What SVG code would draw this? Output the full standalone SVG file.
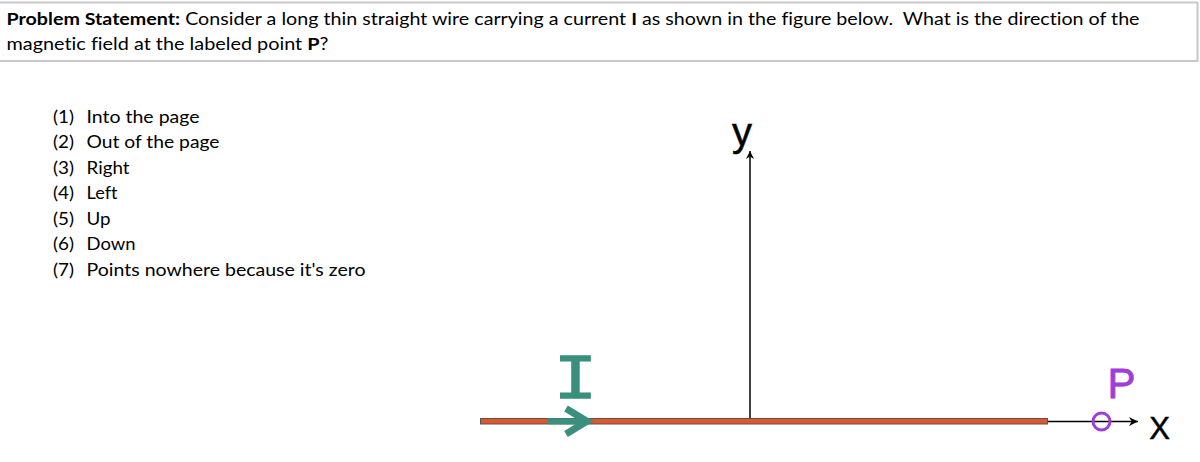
<svg xmlns="http://www.w3.org/2000/svg" width="1200" height="462" viewBox="0 0 1200 462">
  <defs>
    <style>
      .hd { font-family: Lato, "Liberation Sans", sans-serif; font-size: 17.5px; fill: #000; white-space: pre; font-variant-ligatures: none; }
      .li { font-family: Lato, "Liberation Sans", sans-serif; font-size: 17.5px; fill: #000; white-space: pre; font-variant-ligatures: none; }
      .ax { stroke: #000; stroke-width: 1.5; fill: none; }
      .lbl { font-family: "Liberation Sans", Arial, sans-serif; text-anchor: middle; }
    </style>
    <marker id="ah" viewBox="0 0 10 10" refX="10" refY="5" markerWidth="8" markerHeight="8" markerUnits="userSpaceOnUse" orient="auto">
      <path d="M0,0 L10,5 L0,10 L3,5 Z" fill="#000"/>
    </marker>
    <marker id="ahx" viewBox="0 0 10 10" refX="10" refY="5" markerWidth="9" markerHeight="9" markerUnits="userSpaceOnUse" orient="auto">
      <path d="M0,0 L10,5 L0,10 L3,5 Z" fill="#000"/>
    </marker>
  </defs>
  <rect width="1200" height="462" fill="#fff"/>

  <g id="problem-statement">
    <rect x="-2" y="2.5" width="1199.5" height="58.5" fill="#fff" stroke="#c8c8c8" stroke-width="2"/>
    <text class="hd" x="6.5" y="25" textLength="1133" lengthAdjust="spacingAndGlyphs"><tspan font-weight="bold">Problem Statement:</tspan> Consider a long thin straight wire carrying a current <tspan font-weight="bold">I</tspan> as shown in the figure below.  What is the direction of the</text>
    <text class="hd" x="6.5" y="50" textLength="322" lengthAdjust="spacingAndGlyphs">magnetic field at the labeled point <tspan font-weight="bold">P</tspan>?</text>
  </g>

  <g id="choices">
    <text class="li" x="53" y="123" textLength="21" lengthAdjust="spacingAndGlyphs">(1)</text>
    <text class="li" x="86.5" y="123" textLength="113" lengthAdjust="spacingAndGlyphs">Into the page</text>
    <text class="li" x="53" y="148" textLength="21" lengthAdjust="spacingAndGlyphs">(2)</text>
    <text class="li" x="86.5" y="148" textLength="133" lengthAdjust="spacingAndGlyphs">Out of the page</text>
    <text class="li" x="53" y="173.5" textLength="21" lengthAdjust="spacingAndGlyphs">(3)</text>
    <text class="li" x="86.5" y="173.5" textLength="43" lengthAdjust="spacingAndGlyphs">Right</text>
    <text class="li" x="53" y="199" textLength="21" lengthAdjust="spacingAndGlyphs">(4)</text>
    <text class="li" x="86.5" y="199" textLength="31" lengthAdjust="spacingAndGlyphs">Left</text>
    <text class="li" x="53" y="224.5" textLength="21" lengthAdjust="spacingAndGlyphs">(5)</text>
    <text class="li" x="86.5" y="224.5" textLength="24" lengthAdjust="spacingAndGlyphs">Up</text>
    <text class="li" x="53" y="250" textLength="21" lengthAdjust="spacingAndGlyphs">(6)</text>
    <text class="li" x="86.5" y="250" textLength="49" lengthAdjust="spacingAndGlyphs">Down</text>
    <text class="li" x="53" y="275.5" textLength="21" lengthAdjust="spacingAndGlyphs">(7)</text>
    <text class="li" x="86.5" y="275.5" textLength="279" lengthAdjust="spacingAndGlyphs">Points nowhere because it's zero</text>
  </g>

  <g id="connectors">
    <line id="y-axis" class="ax" x1="750" y1="421" x2="750" y2="151" marker-end="url(#ah)"/>
    <line id="x-axis" class="ax" x1="1046" y1="421.5" x2="1138" y2="421.5" marker-end="url(#ahx)"/>
  </g>

  <g id="wire">
    <rect x="480.5" y="418.5" width="567" height="5.5" fill="#e2562a" stroke="#555" stroke-width="1"/>
  </g>

  <g id="current">
    <line x1="548" y1="421.2" x2="586" y2="421.2" stroke="#3a8f7e" stroke-width="6"/>
    <polyline points="566,408.5 587,421.2 566,434" fill="none" stroke="#3a8f7e" stroke-width="7" stroke-linejoin="miter"/>
    <text x="0" y="398.5" text-anchor="middle" transform="translate(575.5,0) scale(1.15,1)" font-family="'Liberation Mono', 'DejaVu Sans Mono', monospace" font-size="63" fill="#3a8f7e" stroke="#3a8f7e" stroke-width="1.5">I</text>
  </g>

  <g id="point-p">
    <circle cx="1101.5" cy="421.5" r="8.5" fill="none" stroke="#a03cd8" stroke-width="3"/>
    <text class="lbl" x="1121.5" y="398" font-size="42" fill="#a03cd8" stroke="#a03cd8" stroke-width="0.8">P</text>
  </g>

  <g id="labels">
    <text class="lbl" x="742" y="146" font-size="40" fill="#000" stroke="#000" stroke-width="0.5">y</text>
    <text class="lbl" x="1159.5" y="439" font-size="31" fill="#000" stroke="#000" stroke-width="0.5">X</text>
  </g>
</svg>
